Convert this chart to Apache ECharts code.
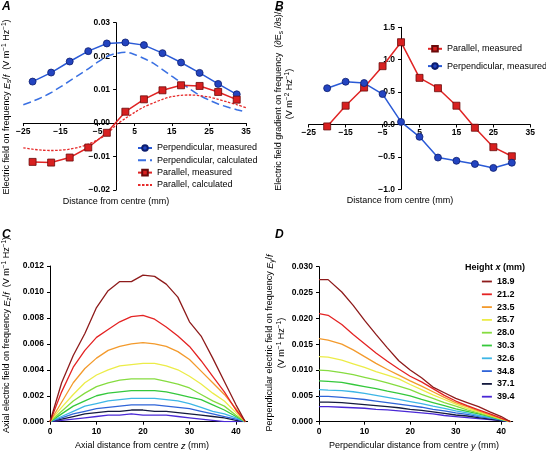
<!DOCTYPE html>
<html><head><meta charset="utf-8">
<script src="https://cdn.jsdelivr.net/npm/echarts@6/dist/echarts.min.js"></script>
<style>html,body{margin:0;padding:0;background:#fff}#c{width:546px;height:451px}</style>
</head><body><div id="c"></div><script>
// ---------- Panel A ----------
const aMeasX = [-22.5,-17.5,-12.5,-7.5,-2.5,2.5,7.5,12.5,17.5,22.5,27.5,32.5];
const aPerpMeas = [0.0124,0.0151,0.0184,0.0215,0.0238,0.0241,0.0233,0.0209,0.0181,0.0150,0.0117,0.0086];
const aParMeas = [-0.0116,-0.0118,-0.0103,-0.0073,-0.0029,0.0034,0.0071,0.0098,0.0113,0.0111,0.0093,0.0070];
const aCalcX = [-25,-22.5,-20,-17.5,-15,-12.5,-10,-7.5,-5,-2.5,0,2.5,5,7.5,10,12.5,15,17.5,20,22.5,25,27.5,30,32.5,35];
const aPerpCalc = [0.0055,0.0065,0.0077,0.0091,0.0108,0.0126,0.0144,0.0162,0.0182,0.0199,0.0208,0.0212,0.0205,0.0193,0.0179,0.0160,0.0140,0.0121,0.0101,0.0083,0.0069,0.0057,0.0048,0.0040,0.0033];
const aParCalc = [-0.0074,-0.0078,-0.0081,-0.0082,-0.0081,-0.0078,-0.0072,-0.0063,-0.0050,-0.0033,-0.0006,0.0014,0.0032,0.0048,0.0060,0.0071,0.0079,0.0083,0.0084,0.0082,0.0078,0.0071,0.0063,0.0055,0.0046];
const aNames = ['Perpendicular, measured','Perpendicular, calculated','Parallel, measured','Parallel, calculated'];
// ---------- Panel B ----------
const bX = [-20,-15,-10,-5,0,5,10,15,20,25,30];
const bPar = [-0.03,0.29,0.57,0.90,1.27,0.72,0.56,0.29,-0.05,-0.35,-0.49];
const bPerp = [0.56,0.66,0.64,0.47,0.04,-0.19,-0.51,-0.56,-0.61,-0.67,-0.59];
const bNames = ['Parallel, measured','Perpendicular, measured'];
// ---------- Panels C & D ----------
const heights = ['18.9','21.2','23.5','25.7','28.0','30.3','32.6','34.8','37.1','39.4'];
const cX = [0,2.5,5,7.5,10,12.5,15,17.5,20,22.5,25,27.5,30,32.5,35,37.5,40,42];
const c189 = [0,0.0030,0.0051,0.0068,0.0088,0.0101,0.0108,0.0108,0.0113,0.0112,0.0106,0.0096,0.0077,0.0066,0.0049,0.0031,0.0013,0];
const c212 = [0,0.0023,0.0042,0.0055,0.0065,0.0071,0.0077,0.0081,0.0082,0.0079,0.0073,0.0066,0.0058,0.0047,0.0035,0.0023,0.0009,0];
const c235 = [0,0.0015,0.0030,0.0041,0.0049,0.0055,0.0058,0.0060,0.0061,0.0060,0.0058,0.0054,0.0048,0.0039,0.0030,0.0021,0.0010,0];
const c257 = [0,0.0011,0.0021,0.0030,0.0036,0.0040,0.0043,0.0044,0.0045,0.0045,0.0043,0.0040,0.0035,0.0029,0.0022,0.0016,0.0007,0];
const c280 = [0,0.0008,0.0016,0.0022,0.0027,0.0030,0.0032,0.0033,0.0033,0.0033,0.0031,0.0029,0.0026,0.0021,0.0016,0.0012,0.0005,0];
const c303 = [0,0.0006,0.0012,0.0016,0.0020,0.0022,0.0023,0.0024,0.0024,0.0024,0.0023,0.0021,0.0019,0.0017,0.0013,0.0009,0.0004,0];
const c326 = [0,0.0004,0.0008,0.0012,0.0014,0.0016,0.0017,0.0018,0.0018,0.0018,0.0017,0.0016,0.0014,0.0011,0.0008,0.0006,0.0003,0];
const c348 = [0,0.0003,0.0006,0.0008,0.0010,0.0011,0.0012,0.0013,0.0013,0.0013,0.0012,0.0011,0.0010,0.0008,0.0006,0.0004,0.0002,0];
const c371 = [0,0.0002,0.0004,0.0006,0.0007,0.0008,0.0008,0.0009,0.0009,0.0008,0.0008,0.0007,0.0006,0.0005,0.0004,0.0003,0.0001,0];
const c394 = [0,0.0001,0.0002,0.0003,0.0004,0.0005,0.0005,0.0006,0.0005,0.0005,0.0005,0.0004,0.0003,0.0002,0.0001,0.0000,0.0000,0];
const dX = [0,2,5,7.5,10,12.5,15,17.5,20,22.5,25,27.5,30,32.5,35,37.5,40,42];
const d189 = [0.0275,0.0275,0.0251,0.0225,0.0196,0.0169,0.0143,0.0118,0.0100,0.0085,0.0067,0.0056,0.0045,0.0037,0.0029,0.0019,0.0010,0];
const d212 = [0.0209,0.0206,0.0188,0.0169,0.0151,0.0133,0.0117,0.0102,0.0088,0.0077,0.0064,0.0051,0.0040,0.0031,0.0023,0.0015,0.0007,0];
const d235 = [0.0161,0.0158,0.0150,0.0139,0.0126,0.0113,0.0101,0.0090,0.0079,0.0069,0.0058,0.0047,0.0037,0.0029,0.0021,0.0013,0.0006,0];
const d257 = [0.0126,0.0125,0.0119,0.0112,0.0105,0.0097,0.0090,0.0083,0.0072,0.0062,0.0052,0.0043,0.0034,0.0026,0.0019,0.0012,0.0005,0];
const d280 = [0.0100,0.0099,0.0095,0.0091,0.0086,0.0081,0.0075,0.0069,0.0062,0.0053,0.0045,0.0037,0.0030,0.0023,0.0017,0.0011,0.0005,0];
const d303 = [0.0079,0.0078,0.0076,0.0072,0.0068,0.0064,0.0059,0.0055,0.0050,0.0043,0.0037,0.0031,0.0025,0.0020,0.0015,0.0010,0.0004,0];
const d326 = [0.0062,0.0061,0.0060,0.0058,0.0055,0.0051,0.0047,0.0043,0.0039,0.0035,0.0030,0.0026,0.0021,0.0017,0.0012,0.0008,0.0004,0];
const d348 = [0.0049,0.0049,0.0047,0.0045,0.0043,0.0040,0.0037,0.0034,0.0031,0.0028,0.0024,0.0021,0.0017,0.0014,0.0010,0.0007,0.0003,0];
const d371 = [0.0038,0.0038,0.0037,0.0035,0.0033,0.0031,0.0029,0.0027,0.0024,0.0022,0.0019,0.0016,0.0013,0.0011,0.0008,0.0005,0.0002,0];
const d394 = [0.0029,0.0029,0.0028,0.0027,0.0026,0.0024,0.0023,0.0021,0.0019,0.0017,0.0015,0.0012,0.0010,0.0008,0.0006,0.0004,0.0002,0];
const cSets = [c189,c212,c235,c257,c280,c303,c326,c348,c371,c394];
const dSets = [d189,d212,d235,d257,d280,d303,d326,d348,d371,d394];
const hColors = ['#8e1b1b','#e42323','#f39a2c','#ecec48','#86dc40','#35c83c','#3db6e6','#2f64d8','#141a3e','#4a28d6'];

const FF = '"Liberation Sans", Arial, Helvetica, sans-serif';
const zip = (xs, ys) => xs.map((x, i) => [x, ys[i]]);
const signFmt = d => v => (v < -1e-9 ? '\u2212' : '') + Math.abs(v).toFixed(d);
const tenFmt = v => Math.abs(v - Math.round(v / 10) * 10) < 1e-6 ? String(Math.round(v)) : '';

function vAxis(gi, min, max, interval, fmt, offset, margin) {
  return {
    type: 'value', gridIndex: gi, min, max, interval, offset: offset || 0,
    splitLine: {show: false},
    axisLine: {show: true, onZero: false, lineStyle: {color: '#000', width: 1}},
    axisTick: {show: true, length: 3, inside: false, lineStyle: {color: '#000', width: 1}},
    axisLabel: {show: true, fontFamily: FF, fontSize: 8.5, fontWeight: 'bold', color: '#000', margin: margin, formatter: fmt, showMaxLabel: true, showMinLabel: true, hideOverlap: false}
  };
}

// grid geometry (pixels)
const gA = {left: 23.3, top: 22.7, width: 222.7, height: 167.3};
const gB = {left: 308.7, top: 27.3, width: 221.6, height: 162};
const gC = {left: 50, top: 266, width: 197.6, height: 155.7};
const gD = {left: 319, top: 266.7, width: 193.7, height: 155};
// offsets that put the A/B axes through zero (computed from the axis ranges)
const offAx = -gA.height * (0 - (-0.02)) / (0.03 - (-0.02));
const offAy = -gA.width * (0 - (-25)) / (35 - (-25));
const offBx = -gB.height * (0 - (-1)) / (1.5 - (-1));
const offBy = -gB.width * (0 - (-25)) / (35 - (-25));

const xAxes = [
  vAxis(0, -25, 35, 10, signFmt(0), offAx, 4),
  vAxis(1, -25, 35, 10, signFmt(0), offBx, 4),
  vAxis(2, 0, 42.5, 10, tenFmt, 0, 5),
  vAxis(3, 0, 42.5, 10, tenFmt, 0, 5)
];
xAxes[2].axisLabel.showMaxLabel = false;
xAxes[3].axisLabel.showMaxLabel = false;
const yAxes = [
  vAxis(0, -0.02, 0.03, 0.01, signFmt(2), offAy, 6),
  vAxis(1, -1, 1.5, 0.5, signFmt(1), offBy, 6),
  vAxis(2, 0, 0.012, 0.002, signFmt(3), 0, 6),
  vAxis(3, 0, 0.030, 0.005, signFmt(3), 0, 6)
];

const blueLine = '#2a5ad6', blueFill = '#2344c0', blueEdge = '#0c1d6e';
const redLine = '#e02424', redFill = '#d82020', redEdge = '#6a0a0a';

const series = [];
// A
series.push({name: aNames[1], type: 'line', xAxisIndex: 0, yAxisIndex: 0, data: zip(aCalcX, aPerpCalc), smooth: 0.3, symbol: 'none', lineStyle: {color: '#3a70e2', width: 1.5, type: [8, 4]}, itemStyle: {color: '#3a70e2'}, z: 2});
series.push({name: aNames[3], type: 'line', xAxisIndex: 0, yAxisIndex: 0, data: zip(aCalcX, aParCalc), smooth: 0.3, symbol: 'none', lineStyle: {color: '#e62a2a', width: 1.3, type: [2.5, 1.5]}, itemStyle: {color: '#e62a2a'}, z: 2});
series.push({name: aNames[0], type: 'line', xAxisIndex: 0, yAxisIndex: 0, data: zip(aMeasX, aPerpMeas), symbol: 'circle', symbolSize: 7, lineStyle: {color: blueLine, width: 1.5}, itemStyle: {color: blueFill, borderColor: blueEdge, borderWidth: 0.8}, z: 3});
series.push({name: aNames[2], type: 'line', xAxisIndex: 0, yAxisIndex: 0, data: zip(aMeasX, aParMeas), symbol: 'rect', symbolSize: 7, lineStyle: {color: redLine, width: 1.5}, itemStyle: {color: redFill, borderColor: redEdge, borderWidth: 0.8}, z: 3});
// B
series.push({name: bNames[0], type: 'line', xAxisIndex: 1, yAxisIndex: 1, data: zip(bX, bPar), symbol: 'rect', symbolSize: 7, lineStyle: {color: redLine, width: 1.5}, itemStyle: {color: redFill, borderColor: redEdge, borderWidth: 0.8}, z: 3});
series.push({name: bNames[1], type: 'line', xAxisIndex: 1, yAxisIndex: 1, data: zip(bX, bPerp), symbol: 'circle', symbolSize: 7, lineStyle: {color: blueLine, width: 1.5}, itemStyle: {color: blueFill, borderColor: blueEdge, borderWidth: 0.8}, z: 3});
// C & D
heights.forEach((h, i) => {
  series.push({name: h, type: 'line', xAxisIndex: 2, yAxisIndex: 2, data: zip(cX, cSets[i]), symbol: 'none', lineStyle: {color: hColors[i], width: 1.3}, itemStyle: {color: hColors[i]}, z: 2 + (10 - i) * 0.01});
  series.push({name: h, type: 'line', xAxisIndex: 3, yAxisIndex: 3, data: zip(dX, dSets[i]), symbol: 'none', lineStyle: {color: hColors[i], width: 1.3}, itemStyle: {color: hColors[i]}, z: 2 + (10 - i) * 0.01});
});

const rich = {
  n: {fontSize: 9, fontFamily: FF, lineHeight: 12, fill: '#000'},
  i: {fontSize: 9, fontFamily: FF, fontStyle: 'italic', lineHeight: 12, fill: '#000'},
  b: {fontSize: 9, fontFamily: FF, fontWeight: 'bold', lineHeight: 12, fill: '#000'},
  bi: {fontSize: 9, fontFamily: FF, fontWeight: 'bold', fontStyle: 'italic', lineHeight: 12, fill: '#000'},
  sub: {fontSize: 6.5, fontFamily: FF, lineHeight: 6, verticalAlign: 'bottom', fill: '#000'},
  sup: {fontSize: 6.5, fontFamily: FF, lineHeight: 6, verticalAlign: 'top', fill: '#000'}
};
function txt(x, y, text, rot, align) {
  return {type: 'text', x, y, rotation: rot || 0, silent: true,
    style: {text, rich, fill: '#000', fontFamily: FF, fontSize: 9, align: align || 'center', verticalAlign: 'middle'}};
}
function panel(x, y, t) {
  return {type: 'text', x, y, silent: true, style: {text: t, fill: '#000', font: 'italic bold 12px ' + FF, align: 'left', verticalAlign: 'top'}};
}
const R = Math.PI / 2;
const unit1 = '{n|(V m}{sup|\u22121}{n| Hz}{sup|\u22121}{n|)}';
const graphics = [
  panel(2, 1, 'A'), panel(275, 1, 'B'), panel(2, 229, 'C'), panel(275, 229, 'D'),
  txt(7, 107, '{n|Electric field on frequency }{i|E}{sub|s}{n|/}{i|f}{n|  }' + unit1, R),
  txt(279, 100, '{n|Electric field gradient on frequency  (\u2202E}{sub|s}{n| /\u2202s)/}{i|f}', R),
  txt(290, 94, '{n|(V m}{sup|\u22122}{n| Hz}{sup|\u22121}{n|)}', R),
  txt(7, 335, '{n|Axial electric field on frequency }{i|E}{sub|z}{n|/}{i|f}{n|  }' + unit1, R),
  txt(270, 343, '{n|Perpendicular electric field on frequency }{i|E}{sub|y}{n|/}{i|f}', R),
  txt(282, 343, unit1, R),
  txt(116, 202, '{n|Distance from centre (mm)}'),
  txt(400, 201, '{n|Distance from centre (mm)}'),
  txt(142, 446, '{n|Axial distance from centre }{i|z}{n| (mm)}'),
  txt(414, 446, '{n|Perpendicular distance from centre }{i|y}{n| (mm)}'),
  txt(465, 268, '{b|Height }{bi|x}{b| (mm)}', 0, 'left')
];

const hidden = {opacity: 0};
const chart = echarts.init(document.getElementById('c'), null, {renderer: 'canvas'});
chart.setOption({
  animation: false,
  backgroundColor: '#fff',
  textStyle: {fontFamily: FF},
  grid: [gA, gB, gC, gD].map(g => Object.assign({outerBoundsMode: 'none', containLabel: false}, g)),
  xAxis: xAxes,
  yAxis: yAxes,
  legend: [
    {data: [{name: aNames[0]}, {name: aNames[1], itemStyle: hidden}, {name: aNames[2]}, {name: aNames[3], itemStyle: hidden}],
     orient: 'vertical', left: 137, top: 143, itemWidth: 14, itemHeight: 7, itemGap: 2.3,
     textStyle: {fontFamily: FF, fontSize: 9, color: '#000', lineHeight: 10}, selectedMode: false, padding: 0},
    {data: bNames, orient: 'vertical', left: 427, top: 43.8, itemWidth: 14, itemHeight: 7, itemGap: 7.3,
     textStyle: {fontFamily: FF, fontSize: 9, color: '#000', lineHeight: 10}, selectedMode: false, padding: 0},
    {data: heights.map(h => ({name: h, itemStyle: hidden})), orient: 'vertical', left: 481, top: 276.5, itemWidth: 10, itemHeight: 8, itemGap: 2.8,
     lineStyle: {width: 1.8},
     textStyle: {fontFamily: FF, fontSize: 9, fontWeight: 'bold', color: '#000', lineHeight: 10}, selectedMode: false, padding: 0}
  ],
  graphic: graphics,
  series
});
</script></body></html>
